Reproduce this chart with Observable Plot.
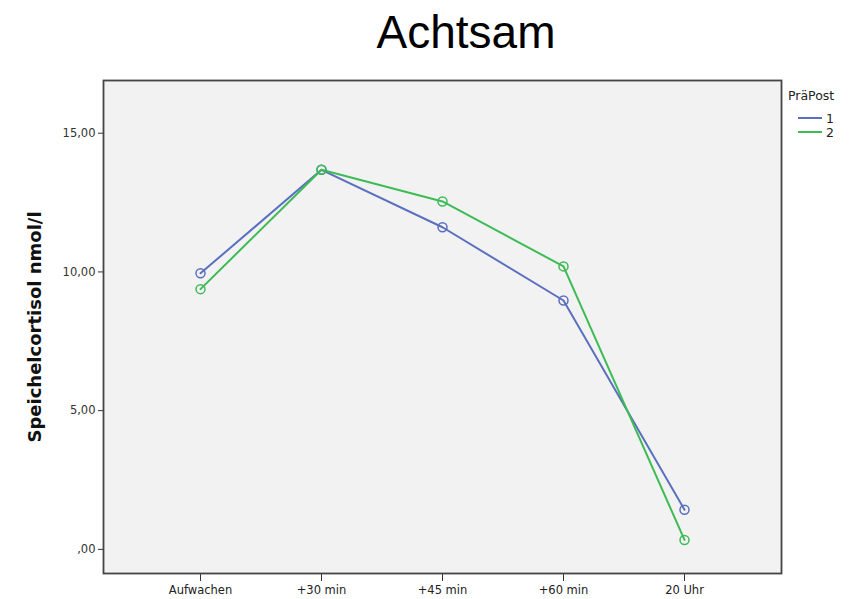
<!DOCTYPE html>
<html>
<head>
<meta charset="utf-8">
<script src="https://cdn.jsdelivr.net/npm/d3@7"></script>
<script src="https://cdn.jsdelivr.net/npm/@observablehq/plot@0.6"></script>
<style>
  html, body { margin: 0; padding: 0; background: #fff; }
  #wrap { position: relative; width: 861px; height: 599px; overflow: hidden; }
  #title { height: 70px; line-height: 64px; font-family: "Liberation Sans", Arial, sans-serif; font-size: 46px; color: #000; text-align: center; padding-left: 71px; box-sizing: border-box; }
  #legend { position: absolute; left: 788px; top: 88px; font-family: "DejaVu Sans", sans-serif; font-size: 12.5px; color: #222; }
  #legend .row { display: flex; align-items: center; height: 14px; margin-left: 10px; }
  #legend .row svg { margin-right: 4px; }
</style>
</head>
<body>
<div id="wrap">
  <div id="title"></div>
  <div id="chart"></div>
  <div id="legend"></div>
</div>
<script>
const chartTitle = "Achtsam";
const yLabel = "Speichelcortisol nmol/l";
const legendTitle = "PräPost";
const timepoints = ["Aufwachen", "+30 min", "+45 min", "+60 min", "20 Uhr"];
const groups = ["1", "2"];
const values1 = [9.95, 13.68, 11.61, 8.97, 1.43];
const values2 = [9.38, 13.68, 12.54, 10.20, 0.34];
const groupColors = ["#5b6fbf", "#3dbb55"];
const yTicks = [0, 5, 10, 15];
const yTickLabels = [",00", "5,00", "10,00", "15,00"];

const rows = [];
[values1, values2].forEach((vals, gi) => {
  vals.forEach((v, i) => rows.push({time: timepoints[i], value: v, group: groups[gi]}));
});

document.getElementById("title").textContent = chartTitle;

const chart = Plot.plot({
  width: 861,
  height: 529,
  marginTop: 10,
  marginBottom: 26,
  marginLeft: 103,
  marginRight: 80,
  style: {fontFamily: "DejaVu Sans, sans-serif", fontSize: "11.5px", color: "#333", background: "transparent"},
  x: {type: "point", domain: timepoints, padding: 0.79, label: null},
  y: {domain: [-0.87, 16.9], label: null},
  color: {domain: groups, range: groupColors},
  marks: [
    Plot.frame({fill: "#f2f2f2", stroke: null}),
    Plot.axisY({ticks: yTicks, tickFormat: d => yTickLabels[yTicks.indexOf(d)], tickSize: 5, tickPadding: 3, stroke: "#333", fill: "#333", label: null}),
    Plot.axisX({tickSize: 8, tickPadding: 4, stroke: "#333", fill: "#222", label: null}),
    Plot.line(rows, {x: "time", y: "value", z: "group", stroke: "group", strokeWidth: 2}),
    Plot.dot(rows, {x: "time", y: "value", stroke: "group", r: 4.5, strokeWidth: 1.5, fill: "none"}),
    Plot.frame({stroke: "#444", strokeWidth: 1.8}),
    Plot.text([yLabel], {frameAnchor: "left", textAnchor: "middle", dx: -68, rotate: -90, fontWeight: "bold", fontSize: 18, fill: "#111"})
  ]
});
document.getElementById("chart").appendChild(chart);

const legend = document.getElementById("legend");
const lt = document.createElement("div");
lt.textContent = legendTitle;
lt.style.marginBottom = "8px";
legend.appendChild(lt);
groups.forEach((g, i) => {
  const row = document.createElement("div");
  row.className = "row";
  row.innerHTML = `<svg width="24" height="4"><line x1="0" x2="24" y1="2" y2="2" stroke="${groupColors[i]}" stroke-width="2"/></svg><span>${g}</span>`;
  legend.appendChild(row);
});
</script>
</body>
</html>
